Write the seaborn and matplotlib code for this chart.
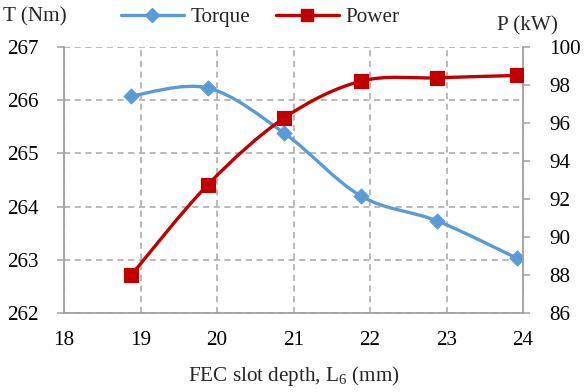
import numpy as np
import pandas as pd
import seaborn as sns
import matplotlib
matplotlib.use("Agg")
import matplotlib.pyplot as plt
from matplotlib.path import Path
from matplotlib.patches import PathPatch
from matplotlib.lines import Line2D

# Slot depth (mm) and measured results
slot_depth = [18.88, 19.88, 20.88, 21.88, 22.88, 23.92]
torque_nm = [266.08, 266.23, 265.38, 264.20, 263.73, 263.03]
power_kw = [88.0, 92.75, 96.27, 98.2, 98.38, 98.5]

x_ticks = [18, 19, 20, 21, 22, 23, 24]
t_ticks = [262, 263, 264, 265, 266, 267]
p_ticks = [86, 88, 90, 92, 94, 96, 98, 100]

TORQUE_C = "#5B9BD5"
POWER_C = "#C00000"
GRID_C = "#A6A6A6"

sns.set_theme(style="white")
plt.rcParams["font.family"] = ["Liberation Serif", "DejaVu Serif"]
plt.rcParams["mathtext.fontset"] = "custom"
plt.rcParams["mathtext.rm"] = "Liberation Serif"
plt.rcParams["mathtext.it"] = "Liberation Serif:italic"
FS = 15.2


def smooth_path(xs, ys):
    """Cubic Bezier path through the points (Catmull-Rom style smoothing)."""
    pts = np.column_stack([xs, ys]).astype(float)
    n = len(pts)
    verts = [pts[0]]
    codes = [Path.MOVETO]
    for i in range(n - 1):
        p0 = pts[i - 1] if i > 0 else pts[i]
        p1 = pts[i]
        p2 = pts[i + 1]
        p3 = pts[i + 2] if i + 2 < n else pts[i + 1]
        c1 = p1 + (p2 - p0) / 6.0
        c2 = p2 - (p3 - p1) / 6.0
        verts += [c1, c2, p2]
        codes += [Path.CURVE4] * 3
    return Path(verts, codes)


df = pd.DataFrame({"depth": slot_depth, "torque": torque_nm, "power": power_kw})

fig = plt.figure(figsize=(5.87, 3.92), dpi=100)
ax = fig.add_axes([64 / 587, 1 - 313 / 392, (523 - 64) / 587, (313 - 47) / 392])
ax2 = ax.twinx()

# Torque on the left axis
ax.add_patch(PathPatch(smooth_path(df.depth, df.torque), fill=False,
                       edgecolor=TORQUE_C, lw=2.4, zorder=3, capstyle="round"))
sns.scatterplot(data=df, x="depth", y="torque", ax=ax, marker="D", s=60,
                color=TORQUE_C, edgecolor=TORQUE_C, zorder=4, legend=False)

# Power on the right axis
ax2.add_patch(PathPatch(smooth_path(df.depth, df.power), fill=False,
                        edgecolor=POWER_C, lw=2.4, zorder=3, capstyle="round"))
sns.scatterplot(data=df, x="depth", y="power", ax=ax2, marker="s", s=110,
                color=POWER_C, edgecolor=POWER_C, zorder=4, legend=False)

ax.set_xlim(18, 24)
ax.set_ylim(262, 267)
ax2.set_ylim(86, 100)
ax.set_xticks(x_ticks)
ax.set_yticks(t_ticks)
ax2.set_yticks(p_ticks)
ax.set_xticklabels([str(v) for v in x_ticks], fontsize=FS)
ax.set_yticklabels([str(v) for v in t_ticks], fontsize=FS)
ax2.set_yticklabels([str(v) for v in p_ticks], fontsize=FS)

ax.grid(True, color=GRID_C, linestyle=(0, (4, 3)), linewidth=1.1)
ax2.grid(False)

for a in (ax, ax2):
    for side in ("left", "right", "bottom", "top"):
        a.spines[side].set_visible(False)
ax.spines["left"].set_visible(True)
ax.spines["bottom"].set_visible(True)
ax2.spines["right"].set_visible(True)
for sp in (ax.spines["left"], ax.spines["bottom"], ax2.spines["right"]):
    sp.set_color("#A0A0A0")
    sp.set_linewidth(1.3)

ax.tick_params(axis="x", direction="inout", length=8, width=1.1, color="#A0A0A0",
               pad=9, labelcolor="black")
ax.tick_params(axis="y", direction="out", length=5, width=1.1, color="#A0A0A0",
               pad=13, labelcolor="black", left=True)
ax2.tick_params(axis="y", direction="out", length=5, width=1.1, color="#A0A0A0",
                pad=14, labelcolor="black", right=True)

ax.set_xlabel("")
ax.set_ylabel("")
ax2.set_ylabel("")

fig.text(3 / 587, 1 - 17 / 392, "T (Nm)", fontsize=FS, va="center", ha="left")
fig.text(558 / 587, 1 - 26 / 392, "P (kW)", fontsize=FS, va="center", ha="right")
fig.text(ax.get_position().x0 + ax.get_position().width / 2, 1 - 376 / 392,
         "FEC slot depth, L$_6$ (mm)", fontsize=FS, va="center", ha="center")

handles = [
    Line2D([], [], color=TORQUE_C, lw=2.4, marker="D", markersize=7),
    Line2D([], [], color=POWER_C, lw=2.4, marker="s", markersize=9),
]
fig.legend(handles, ["Torque", "Power"], loc="center", bbox_to_anchor=(260 / 587, 1 - 17 / 392),
           ncol=2, frameon=False, fontsize=FS, handlelength=3.0, handletextpad=0.3,
           columnspacing=1.2, borderpad=0)

fig.savefig("out.png", dpi=100)
